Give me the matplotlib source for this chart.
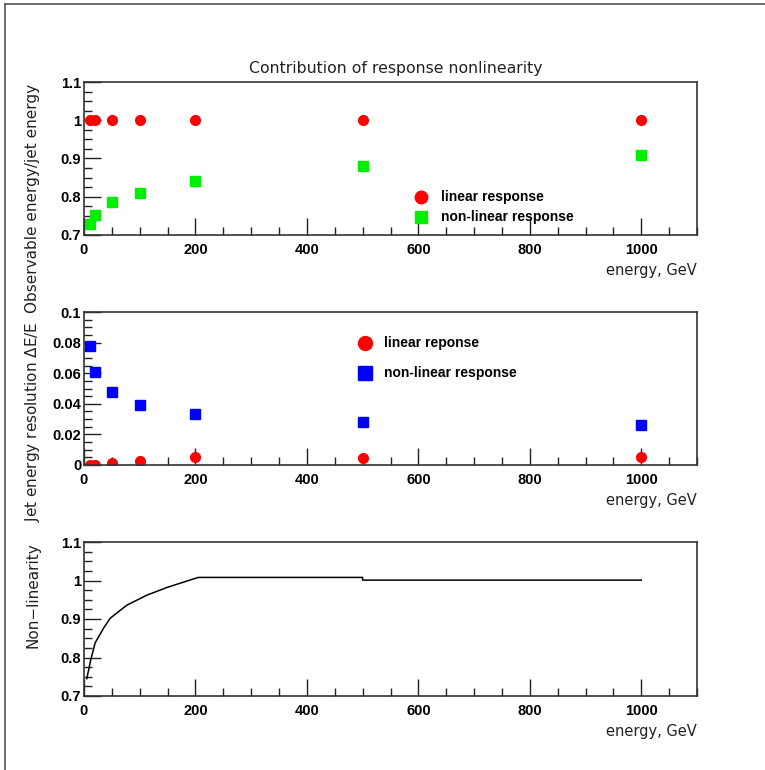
import matplotlib
matplotlib.use("Agg")
import matplotlib.pyplot as plt
from matplotlib.lines import Line2D
from matplotlib.ticker import MultipleLocator, FuncFormatter
from matplotlib.font_manager import FontProperties

# data
energy = [10, 20, 50, 100, 200, 500, 1000]
resp_linear = [1.0, 1.0, 1.0, 1.0, 1.0, 1.0, 1.0]
resp_nonlinear = [0.73, 0.752, 0.785, 0.81, 0.84, 0.88, 0.91]
res_linear = [0.0, 0.0, 0.0015, 0.0028, 0.005, 0.0048, 0.0052]
res_nonlinear = [0.078, 0.061, 0.0475, 0.039, 0.0335, 0.028, 0.026]

curve_x = [5, 12, 20, 35, 47, 77, 113, 149, 205, 500, 500, 1000]
curve_y = [0.745, 0.793, 0.838, 0.876, 0.902, 0.936, 0.962, 0.982, 1.008, 1.008, 1.001, 1.001]

tick_font = dict(family="Liberation Sans", weight="bold", size=10.5)
thin_font = "DejaVu Sans"

W = 765.0
H = 770.0

fig = plt.figure(figsize=(7.65, 7.70), dpi=100)

# outer frame (only top and left edges visible)
fig.add_artist(Line2D([5 / W, 5 / W], [0, 1 - 4 / H], color="#555555", lw=1.2))
fig.add_artist(Line2D([5 / W, 1], [1 - 4 / H, 1 - 4 / H], color="#555555", lw=1.2))


def make_axes(top, bottom, ylim, major, minor):
    ax = fig.add_axes([84 / W, 1 - bottom / H, (697 - 84) / W, (bottom - top) / H])
    ax.set_xlim(0, 1100)
    ax.set_ylim(*ylim)
    ax.xaxis.set_major_locator(MultipleLocator(200))
    ax.xaxis.set_minor_locator(MultipleLocator(50))
    ax.yaxis.set_major_locator(MultipleLocator(major))
    ax.yaxis.set_minor_locator(MultipleLocator(minor))
    ax.yaxis.set_major_formatter(FuncFormatter(lambda v, p: "%g" % round(v, 3)))
    ax.tick_params(which="both", direction="in", top=False, right=False, width=1, color="#222222")
    ax.tick_params(which="major", length=12)
    ax.tick_params(which="minor", length=6)
    ax.tick_params(axis="y", pad=2)
    ax.tick_params(axis="x", pad=6)
    for s in ax.spines.values():
        s.set_linewidth(1.2)
        s.set_color("#333333")
    ax.text(1.0, -0.23, "energy, GeV", transform=ax.transAxes, ha="right", va="center",
            family=thin_font, fontsize=10.5, color="#222222")
    return ax


# top panel: response
ax1 = make_axes(82, 235, (0.7, 1.1), 0.1, 0.025)
ax1.plot(energy, resp_linear, "o", color="red", ms=7, ls="none")
ax1.plot(energy, resp_nonlinear, "s", color="#00ee00", ms=7, ls="none")
ax1.plot([605], [0.799], "o", color="red", ms=9, clip_on=False)
ax1.plot([605], [0.747], "s", color="#00ee00", ms=9, clip_on=False)
ax1.text(640, 0.799, "linear response", ha="left", va="center", family="Liberation Sans",
         weight="bold", fontsize=10)
ax1.text(640, 0.747, "non-linear response", ha="left", va="center", family="Liberation Sans",
         weight="bold", fontsize=10)

# middle panel: resolution
ax2 = make_axes(312, 465, (0.0, 0.1), 0.02, 0.005)
ax2.plot(energy, res_linear, "o", color="red", ms=7, ls="none")
ax2.plot(energy, res_nonlinear, "s", color="blue", ms=7, ls="none")
ax2.plot([504], [0.0797], "o", color="red", ms=10, clip_on=False)
ax2.plot([504], [0.0601], "s", color="blue", ms=10, clip_on=False)
ax2.text(538, 0.0797, "linear reponse", ha="left", va="center", family="Liberation Sans",
         weight="bold", fontsize=10)
ax2.text(538, 0.0601, "non-linear response", ha="left", va="center", family="Liberation Sans",
         weight="bold", fontsize=10)

# bottom panel: non-linearity curve
ax3 = make_axes(542, 696, (0.7, 1.1), 0.1, 0.025)
ax3.plot(curve_x, curve_y, color="black", lw=1.1)

for ax in (ax1, ax2, ax3):
    for lab in ax.get_xticklabels() + ax.get_yticklabels():
        lab.set_fontproperties(FontProperties(**tick_font))

# titles and y labels
fig.text(396 / W, 1 - 68 / H, "Contribution of response nonlinearity", ha="center", va="center",
         family=thin_font, fontsize=11.3, color="#222222")
fig.text(33 / W, 1 - 84 / H, "Observable energy/jet energy", rotation=90, ha="center", va="top",
         family=thin_font, fontsize=11, color="#222222")
fig.text(33 / W, 1 - 322 / H, "Jet energy resolution $\\Delta$E/E", rotation=90, ha="center",
         va="top", family=thin_font, fontsize=11, color="#222222")
fig.text(33 / W, 1 - 542 / H, "Non\u2212linearity", rotation=90, ha="center", va="top",
         family=thin_font, fontsize=11, color="#222222")

fig.savefig("out.png", dpi=100)
